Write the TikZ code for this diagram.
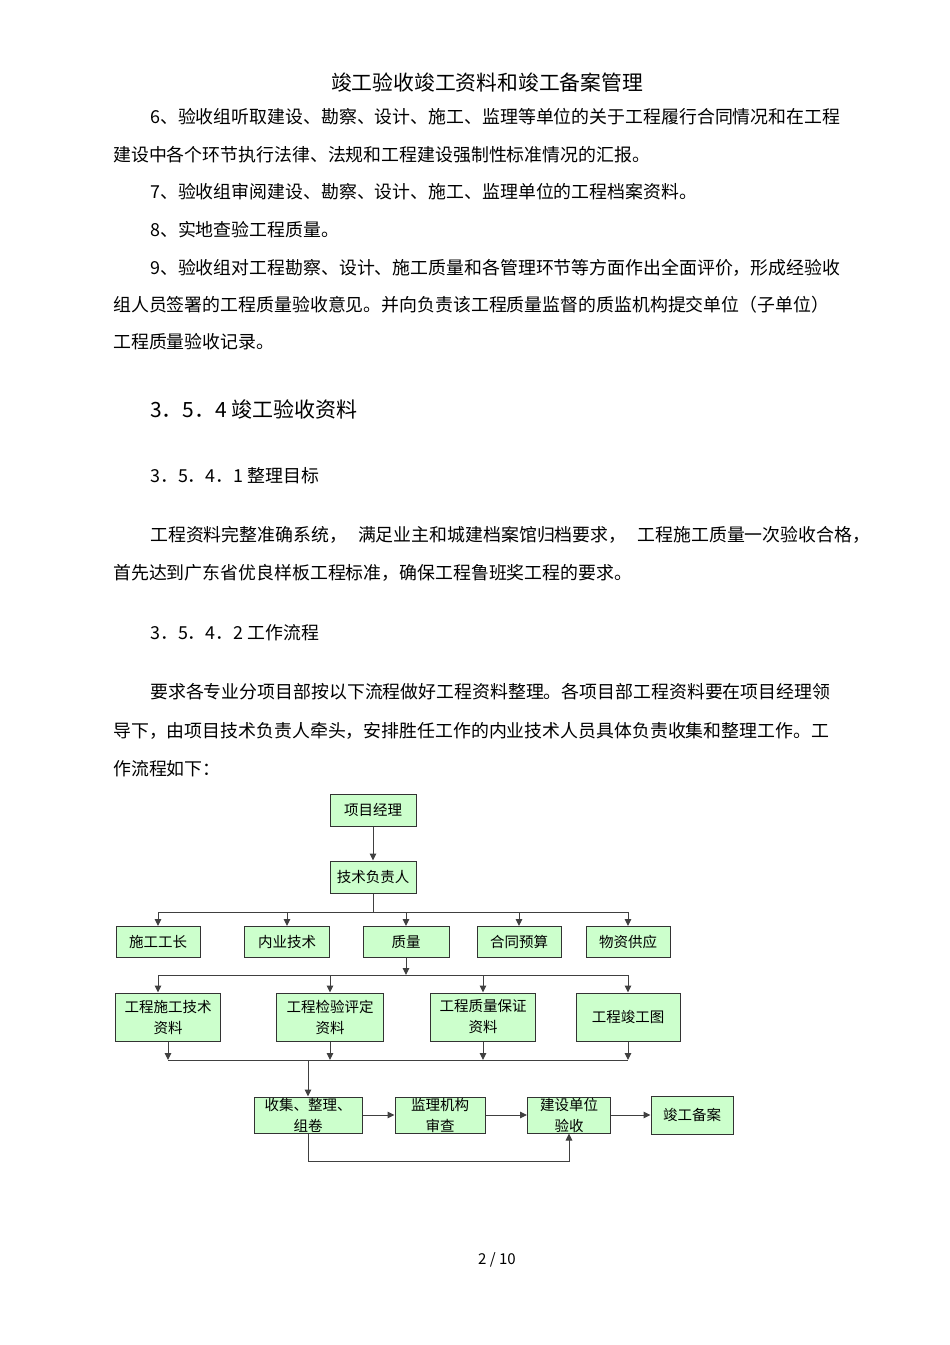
\documentclass[tikz,border=0pt]{standalone}
\usepackage{fontspec}
\setmainfont{Noto Sans CJK SC}
\usetikzlibrary{arrows.meta}
\definecolor{boxg}{RGB}{204,255,204}
\tikzset{
  x=1pt,y=-1pt,
  txt/.style={anchor=west,inner sep=0,font=\fontsize{17.9}{19}\selectfont},
  hd/.style={anchor=west,inner sep=0,font=\fontsize{21}{22}\selectfont},
  bx/.style={draw=black!80,line width=1pt,fill=boxg,inner sep=0,align=center,font=\fontsize{14.5}{21}\selectfont},
  ln/.style={draw=black!75,line width=1pt},
  ar/.style={ln,-{Triangle[length=7pt,width=6.5pt]}}
}
\begin{document}
\begin{tikzpicture}
\useasboundingbox (0,0) rectangle (950,1345);
\node[inner sep=0,font=\fontsize{20.8}{22}\selectfont] (title) at (487,83) {竣工验收竣工资料和竣工备案管理};
\node[txt] (l1) at (150,117) {6、验收组听取建设、勘察、设计、施工、监理等单位的关于工程履行合同情况和在工程};
\node[txt] (l2) at (113,155) {建设中各个环节执行法律、法规和工程建设强制性标准情况的汇报。};
\node[txt] (l3) at (150,192) {7、验收组审阅建设、勘察、设计、施工、监理单位的工程档案资料。};
\node[txt] (l4) at (150,230) {8、实地查验工程质量。};
\node[txt] (l5) at (150,268) {9、验收组对工程勘察、设计、施工质量和各管理环节等方面作出全面评价，形成经验收};
\node[txt] (l6) at (113,305) {组人员签署的工程质量验收意见。并向负责该工程质量监督的质监机构提交单位（子单位）};
\node[txt] (l7) at (113,342) {工程质量验收记录。};
\node[hd] (h1) at (150,409) {3．5．4 竣工验收资料};
\node[txt] (h2) at (150,476) {3．5．4．1 整理目标};
\node[txt] (l8) at (150,535) {工程资料完整准确系统，\hspace{11pt}满足业主和城建档案馆归档要求，\hspace{11pt}工程施工质量一次验收合格，};
\node[txt] (l9) at (113,573) {首先达到广东省优良样板工程标准，确保工程鲁班奖工程的要求。};
\node[txt] (h3) at (150,633) {3．5．4．2 工作流程};
\node[txt] (l10) at (150,692) {要求各专业分项目部按以下流程做好工程资料整理。各项目部工程资料要在项目经理领};
\node[txt] (l11) at (113,731) {导下，由项目技术负责人牵头，安排胜任工作的内业技术人员具体负责收集和整理工作。工};
\node[txt] (l12) at (113,769) {作流程如下：};
\node[inner sep=0,font=\fontsize{15}{16}\selectfont] (pg) at (497,1260) {2 / 10};

% boxes
\node[bx,minimum width=86pt,minimum height=32pt] (pm) at (373,810) {项目经理};
\node[bx,minimum width=86pt,minimum height=32pt] (tr) at (373,877) {技术负责人};
\node[bx,minimum width=84pt,minimum height=31pt] (a1) at (158,942) {施工工长};
\node[bx,minimum width=85pt,minimum height=31pt] (a2) at (287,942) {内业技术};
\node[bx,minimum width=86pt,minimum height=31pt] (a3) at (406,942) {质量};
\node[bx,minimum width=84pt,minimum height=31pt] (a4) at (519,942) {合同预算};
\node[bx,minimum width=84pt,minimum height=31pt] (a5) at (628,942) {物资供应};
\node[bx,minimum width=105pt,minimum height=48pt] (b1) at (168,1017) {工程施工技术\\资料};
\node[bx,minimum width=107pt,minimum height=48pt] (b2) at (330,1017) {工程检验评定\\资料};
\node[bx,minimum width=105pt,minimum height=48pt] (b3) at (483,1017) {工程质量保证\\资料};
\node[bx,minimum width=104pt,minimum height=48pt] (b4) at (628,1017) {工程竣工图};
\node[bx,minimum width=108pt,minimum height=36pt] (c1) at (308,1115) {收集、整理、\\组卷};
\node[bx,minimum width=90pt,minimum height=36pt] (c2) at (440,1115) {监理机构\\审查};
\node[bx,minimum width=83pt,minimum height=36pt] (c3) at (569,1115) {建设单位\\验收};
\node[bx,minimum width=82pt,minimum height=38pt] (c4) at (692,1115) {竣工备案};

\coordinate (j1) at (373,912);
\coordinate (j2) at (406,975);
\coordinate (j3) at (308,1060);
\coordinate (lp) at (308,1161);

\draw[ar] (pm) -- (tr);
\draw[ln] (tr) -- (j1);
\draw[ln] (j1 -| a1) -- (j1 -| a5);
\foreach \n in {a1,a2,a3,a4,a5} \draw[ar] (j1 -| \n) -- (\n.north);
\draw[ar] (a3) -- (j2);
\draw[ln] (j2 -| a1) -- (j2 -| b4);
\draw[ar] (j2 -| a1) -- (a1 |- b1.north);
\foreach \n in {b2,b3,b4} \draw[ar] (j2 -| \n) -- (\n.north);
\draw[ln] (j3 -| b1) -- (j3 -| b4);
\foreach \n in {b1,b2,b3,b4} \draw[ar] (\n.south) -- (j3 -| \n);
\draw[ar] (j3) -- (c1.north);
\draw[ar] (c1) -- (c2);
\draw[ar] (c2) -- (c3);
\draw[ar] (c3) -- (c4);
\draw[ar] (c1.south) -- (lp) -| (c3.south);
\end{tikzpicture}
\end{document}
